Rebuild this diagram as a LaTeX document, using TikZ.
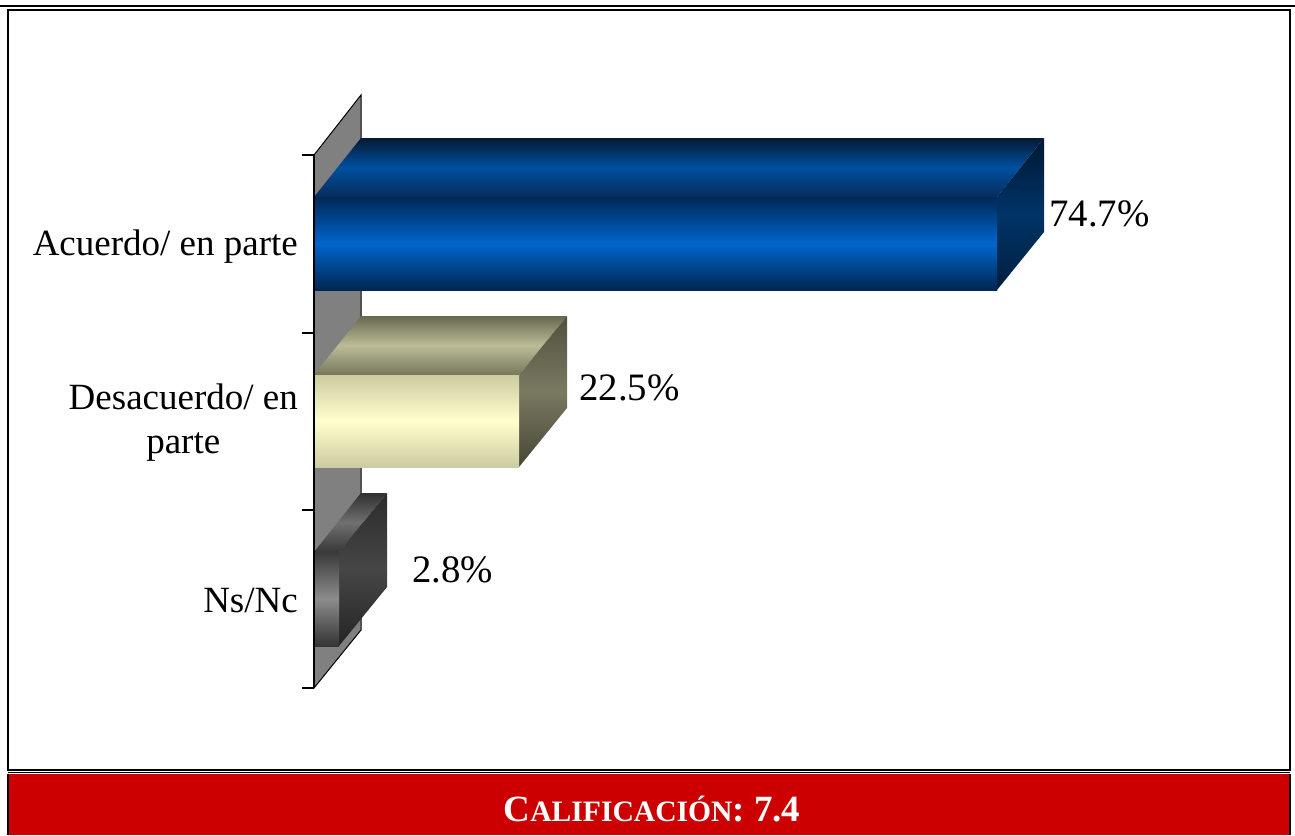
\documentclass[tikz,border=0pt]{standalone}
\usepackage{fontspec}
\setmainfont{Liberation Serif}
\definecolor{wallgray}{HTML}{808080}
\definecolor{califred}{HTML}{CC0000}
\begin{document}
\begin{tikzpicture}[x=1pt, y=-1pt,
    lbl/.style={inner sep=0pt, font=\fontsize{37}{44}\selectfont},
    val/.style={inner sep=0pt, anchor=base west, font=\fontsize{38.8}{45}\selectfont},
    wall/.style={fill=wallgray, draw=black, line width=1pt},
    bluefront/.style={top color={rgb,255:red,0;green,40;blue,88}, bottom color={rgb,255:red,0;green,38;blue,80}, middle color={rgb,255:red,0;green,102;blue,204}},
    bluetop/.style={top color={rgb,255:red,5;green,25;blue,52}, bottom color={rgb,255:red,8;green,44;blue,90}, middle color={rgb,255:red,0;green,80;blue,160}},
    blueside/.style={top color={rgb,255:red,0;green,24;blue,50}, bottom color={rgb,255:red,0;green,30;blue,62}, middle color={rgb,255:red,0;green,52;blue,104}},
    tanfront/.style={top color={rgb,255:red,204;green,204;blue,160}, bottom color={rgb,255:red,204;green,204;blue,160}, middle color={rgb,255:red,255;green,255;blue,206}},
    tantop/.style={top color={rgb,255:red,104;green,104;blue,80}, bottom color={rgb,255:red,118;green,118;blue,92}, middle color={rgb,255:red,188;green,188;blue,152}},
    tanside/.style={top color={rgb,255:red,80;green,80;blue,62}, bottom color={rgb,255:red,70;green,70;blue,54}, middle color={rgb,255:red,122;green,122;blue,98}},
    grayfront/.style={top color={rgb,255:red,58;green,58;blue,58}, bottom color={rgb,255:red,52;green,52;blue,52}, middle color={rgb,255:red,140;green,140;blue,140}},
    graytop/.style={top color={rgb,255:red,48;green,48;blue,48}, bottom color={rgb,255:red,56;green,56;blue,56}, middle color={rgb,255:red,112;green,112;blue,112}},
    grayside/.style={top color={rgb,255:red,44;green,44;blue,44}, bottom color={rgb,255:red,36;green,36;blue,36}, middle color={rgb,255:red,70;green,70;blue,70}}]
  \useasboundingbox (0,0) rectangle (1295,835);

  % frame and red footer
  \draw[line width=1.5pt] (0,6)--(1295,6);
  \draw[line width=2.5pt] (8,10) rectangle (1290,770);
  \draw[line width=1.2pt] (8,772.5)--(1290,772.5);
  \fill[califred] (8,774) rectangle (1290,835);
  \draw[line width=2.5pt] (8,774)--(8,835) (1290,774)--(1290,835);

  % back wall
  \draw[wall] (314,155)--(361,95)--(361,630)--(314,688)--cycle;

  % Acuerdo bar
  \shade[bluetop] (314,197)--(361,138)--(1044,138)--(997,197)--cycle;
  \shade[blueside] (997,197)--(1044,138)--(1044,232)--(997,290)--cycle;
  \shade[bluefront] (314,197) rectangle (997,290);

  % Desacuerdo bar
  \shade[tantop] (314,375)--(361,316)--(567,316)--(519,375)--cycle;
  \shade[tanside] (519,375)--(567,316)--(567,408)--(519,467)--cycle;
  \shade[tanfront] (314,375) rectangle (519,467);

  % Ns/Nc bar
  \shade[graytop] (314,552)--(361,493)--(387,493)--(339,552)--cycle;
  \shade[grayside] (339,552)--(387,493)--(387,587)--(339,646)--cycle;
  \shade[grayfront] (314,552) rectangle (339,646);

  % axis and ticks
  \draw[line width=2.5pt] (314,155)--(314,688);
  \draw[line width=1.8pt] (302,155)--(314,155) (302,332.7)--(314,332.7)
    (302,510.3)--(314,510.3) (302,688)--(314,688);

  % category labels
  \node[lbl, anchor=base east] (acuerdo) at (298,255) {Acuerdo/ en parte};
  \node[lbl, anchor=east, align=center] (desacuerdo) at (298,423) {Desacuerdo/ en\\parte};
  \node[lbl, anchor=base east] (nsnc) at (298,612) {Ns/Nc};

  % values
  \node[val] (v1) at (1049,226) {74.7\%};
  \node[val] (v2) at (579,400) {22.5\%};
  \node[val] (v3) at (412,582) {2.8\%};

  % footer text
  \node[inner sep=0pt, anchor=base, text=white, font=\bfseries] (calif) at (652,821)
    {\fontsize{37}{44}\selectfont C\fontsize{29.6}{36}\selectfont ALIFICACIÓN\fontsize{37}{44}\selectfont: 7.4};
\end{tikzpicture}
\end{document}
